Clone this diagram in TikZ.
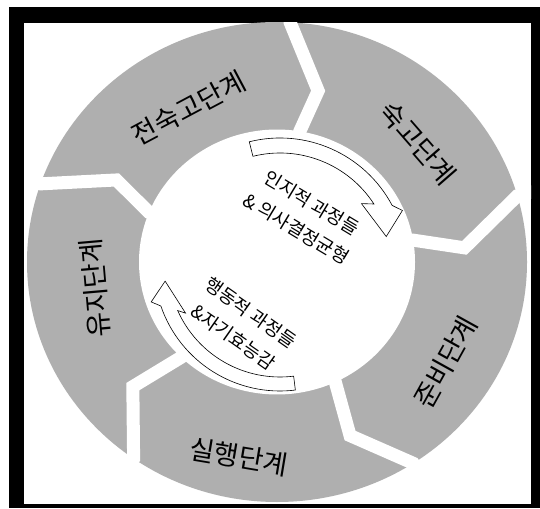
\documentclass[tikz,border=0pt]{standalone}
\usepackage{fontspec}
\newfontfamily\kr{Noto Sans CJK KR}
\definecolor{ringgray}{RGB}{175,175,175}
\tikzset{
  stagelabel/.style={font=\kr\fontsize{27}{32}\selectfont, inner sep=0pt},
  innerlabel/.style={font=\kr\fontsize{18.5}{30}\selectfont, align=center, inner sep=0pt},
  hollowarrow/.style={fill=white, draw=black, line width=0.6pt, line join=miter},
  gapline/.style={draw=white, line width=13pt, line join=miter}
}
\begin{document}
\begin{tikzpicture}[x=1pt,y=1pt]
\useasboundingbox (0,0) rectangle (540,508);
\fill[white] (0,0) rectangle (540,508);
\fill[black] (9,0) rectangle (540,501);
\fill[white] (24,4) rectangle (531,485);
\begin{scope}
  \clip (24,4) rectangle (531,485);
  \begin{scope}[shift={(277,246)},yscale=0.96]
    \fill[ringgray] (0,0) circle (250);
    \foreach \o/\p/\pr/\i in {87/77/183/80.5, 16/4.5/188/9.5, -57/-68/195/-65, -125/-138/194/-134, 161/152/182/158}
      \draw[gapline] (\o:280) -- (\o:250) -- (\p:\pr) -- (\i:138) -- (\i:115);
    \fill[white] (0,0) circle (138);
  \end{scope}
\end{scope}
% hollow curved arrows
\begin{scope}[shift={(280,243)}]
  \filldraw[hollowarrow] (104:127) arc[start angle=104,end angle=28,radius=127]
    -- (24:134) -- (15:110) -- (37:102) -- (33:112)
    arc[start angle=33,end angle=104,radius=112] -- cycle;
  \filldraw[hollowarrow] (-83:126) arc[start angle=-83,end angle=-161,radius=126]
    -- (-164:134) -- (-172:116) -- (-153:106) -- (-156:112)
    arc[start angle=-156,end angle=-83,radius=112] -- cycle;
\end{scope}
% stage labels
\node[stagelabel, rotate=28] (s1) at (189,400) {전숙고단계};
\node[stagelabel, rotate=-49] (s2) at (418,365) {숙고단계};
\node[stagelabel, rotate=61] (s3) at (446,146) {준비단계};
\node[stagelabel, rotate=-9.5] (s4) at (239,51) {실행단계};
\node[stagelabel, rotate=95] (s5) at (95,220) {유지단계};
% inner labels
\node[innerlabel, rotate=-31] (c1) at (304,292) {인지적 과정들\\\& 의사결정균형};
\node[innerlabel, rotate=-35] (c2) at (242,183) {행동적 과정들\\\&자기효능감};
\end{tikzpicture}
\end{document}
